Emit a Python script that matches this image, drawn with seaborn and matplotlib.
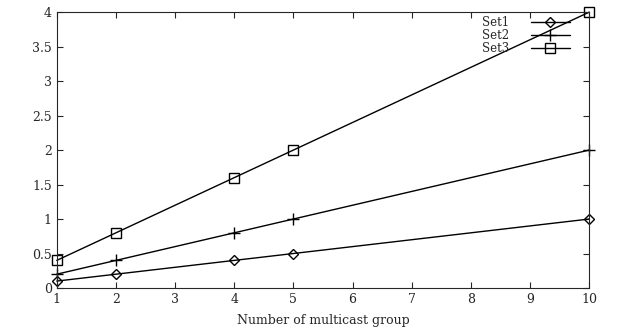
import matplotlib
matplotlib.use("Agg")
import matplotlib.pyplot as plt
import seaborn as sns
import pandas as pd

groups = [1, 2, 4, 5, 10]
set1 = [0.1, 0.2, 0.4, 0.5, 1.0]
set2 = [0.2, 0.4, 0.8, 1.0, 2.0]
set3 = [0.4, 0.8, 1.6, 2.0, 4.0]
series = ["Set1", "Set2", "Set3"]
markers = {"Set1": "D", "Set2": "+", "Set3": "s"}
sizes = {"Set1": 5.5, "Set2": 9, "Set3": 7.5}

sns.set_style("ticks")
plt.rcParams["font.family"] = ["DejaVu Serif"]

df = pd.DataFrame({"x": groups * 3,
                   "y": set1 + set2 + set3,
                   "set": sum([[s] * len(groups) for s in series], [])})

fig = plt.figure(figsize=(6.17, 3.28), dpi=100)
ax = fig.add_axes([0.092, 0.122, 0.863, 0.841])

for s in series:
    d = df[df["set"] == s]
    sns.lineplot(data=d, x="x", y="y", ax=ax, color="black", lw=1,
                 marker=markers[s], markersize=sizes[s],
                 markerfacecolor="none", markeredgecolor="black",
                 markeredgewidth=1, label=s, clip_on=False)

ax.set_xlim(1, 10)
ax.set_ylim(0, 4)
ax.set_xticks(range(1, 11))
ax.set_yticks([0, 0.5, 1, 1.5, 2, 2.5, 3, 3.5, 4])
ax.set_yticklabels(["0", "0.5", "1", "1.5", "2", "2.5", "3", "3.5", "4"])
ax.tick_params(direction="in", top=True, right=True, labelsize=9, length=4)
for sp in ax.spines.values():
    sp.set_linewidth(0.8)
ax.set_xlabel("Number of multicast group", fontsize=9, labelpad=6)
ax.set_ylabel("")
# tight rows as in the reference, without the label boxes overlapping
leg = ax.legend(loc="upper right", frameon=False, markerfirst=False,
                fontsize=8.5, handlelength=3.3, handleheight=0.4,
                labelspacing=0.0, handletextpad=1.8, borderpad=0.2,
                borderaxespad=0.1, bbox_to_anchor=(0.97, 1.0))

fig.savefig("out.png", dpi=100)
